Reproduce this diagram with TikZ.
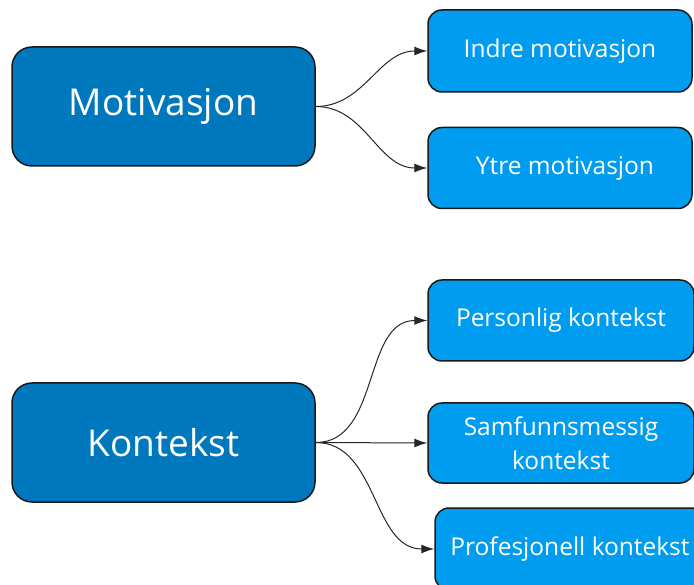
\documentclass[tikz,border=0pt]{standalone}
\usepackage{fontspec}
\setmainfont{Open Sans}
\usetikzlibrary{arrows.meta}
\definecolor{topicblue}{HTML}{0078BE}
\definecolor{leafblue}{HTML}{009CEF}
\tikzset{
    topic box/.style={
        draw=black!90, line width=1.5pt, fill=topicblue, text=white,
        rounded corners=20pt, minimum width=303pt, minimum height=119pt,
        font=\fontsize{37}{44}\selectfont
    },
    leaf box/.style={
        draw=black!90, line width=1.5pt, fill=leafblue, text=white,
        rounded corners=14pt, minimum width=266pt, minimum height=81pt,
        align=center, font=\fontsize{24.5}{34}\selectfont
    },
    branch/.style={
        draw=black!85, line width=1pt,
        -{Latex[length=13pt,width=9pt]}
    }
}
\begin{document}
\begin{tikzpicture}[x=1pt, y=-1pt]
                \useasboundingbox (0,0) rectangle (694,585);
                \clip (0,0) rectangle (694,585);

                \coordinate (Pmot) at (163.5, 106.5);
                \coordinate (Pkon) at (163.5, 442.5);
                \coordinate (Pindre) at (560, 51);
                \coordinate (Pytre) at (560, 168);
                \coordinate (Ppers) at (561, 320.5);
                \coordinate (Psamf) at (561, 443);
                \coordinate (Pprof) at (570, 549);

                % topics
                \node [topic box] (mot) at (Pmot) {Motivasjon};
                \node [topic box] (kon) at (Pkon) {Kontekst};

                % leaves
                \node [leaf box, minimum width=264pt, minimum height=82pt] (indre) at (Pindre) {Indre motivasjon};
                \node [leaf box, minimum width=264pt] (ytre) at (Pytre) {\hspace*{10pt}Ytre motivasjon};
                \node [leaf box] (pers) at (Ppers) {Personlig kontekst};
                \node [leaf box, minimum height=80pt] (samf) at (Psamf) {Samfunnsmessig\\kontekst};
                \node [leaf box, minimum width=270pt, minimum height=82pt] (prof) at (Pprof) {Profesjonell kontekst};

                % branches
                \foreach \leaf in {indre, ytre}
                    \draw [branch] (mot.east) to[out=0, in=180] (\leaf.west);
                \foreach \leaf in {pers, samf, prof}
                    \draw [branch] (kon.east) to[out=0, in=180] (\leaf.west);
\end{tikzpicture}
\end{document}
